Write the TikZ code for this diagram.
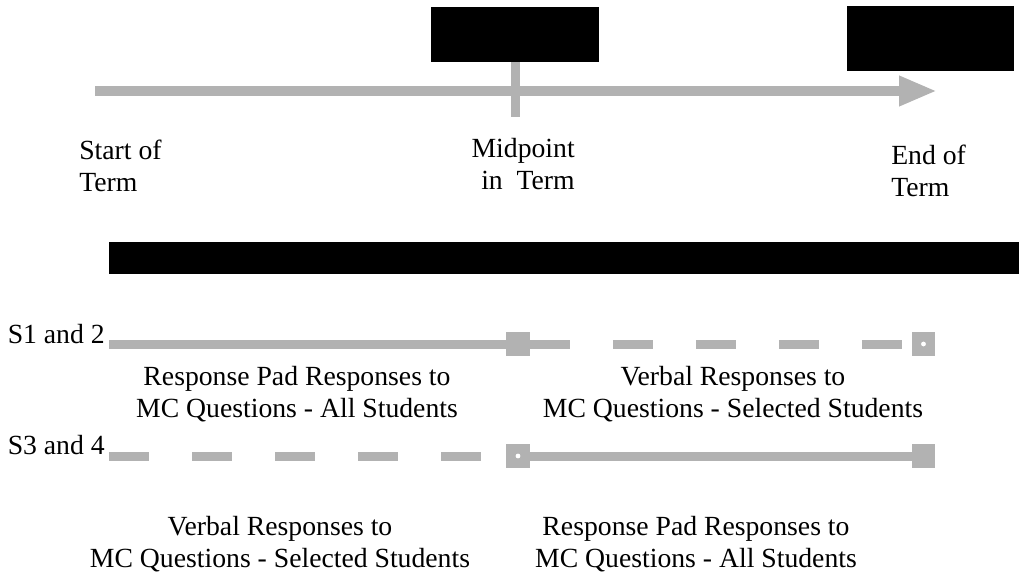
\documentclass[tikz,border=0pt]{standalone}
\usepackage{fontspec}
\setmainfont{Liberation Serif}
\usepackage{xcolor}
\usepackage{tikz}
\usetikzlibrary{arrows.meta, positioning}

\definecolor{trackgray}{RGB}{178,178,178}
\tikzset{
    blackbox/.style={draw=none, fill=black, inner sep=0pt},
    marker/.style={draw=none, fill=trackgray, minimum size=0.58cm, inner sep=0pt},
    hole/.style={circle, fill=white, minimum size=0.12cm, inner sep=0pt},
    track/.style={trackgray, line width=0.225cm},
    gaps/.style={track, dash pattern=on 1cm off 1.075cm},
    lbl/.style={font=\fontsize{19.7}{22.7}\selectfont, inner sep=0pt}
}

\begin{document}
\begin{tikzpicture}[x=0.025cm, y=-0.025cm]
        \useasboundingbox (0,0) rectangle (1019,577);

        \node[blackbox, minimum width=4.2cm, minimum height=1.375cm] (midbox) at (515,34.5) {};
        \node[blackbox, minimum width=4.175cm, minimum height=1.625cm] (endbox) at (930.5,38.5) {};

        \coordinate (tstart) at (95,91);
        \coordinate (tend) at (937,91);
        \coordinate (ticklow) at (515,117);
        \draw[trackgray, line width=0.225cm] (midbox.south) -- (ticklow);
        \draw[trackgray, line width=0.25cm, -{Triangle[width=0.7cm, length=0.95cm]}] (tstart) -- (tend);

        \node[lbl, align=left, anchor=west] (startlbl) at (79,166) {Start of\\Term};
        \node[lbl, align=right, anchor=east] (midlbl) at (575,164) {Midpoint\\in~~Term};
        \node[lbl, align=left, anchor=west] (endlbl) at (891,171) {End of\\Term};

        \node[blackbox, minimum width=22.75cm, minimum height=0.8cm] (bar) at (564,258) {};

        % S1 and 2
        \coordinate (rowa) at (109,344);
        \node[lbl, anchor=base east] (rowalbl) at (105,343) {S1 and 2};
        \node[marker] (amid) at (518,344) {};
        \node[marker] (aend) at (923.5,344) {};
        \node[hole] at (aend) {};
        \draw[track] (rowa) -- (amid.west);
        \draw[gaps] (amid.east) -- (aend.west);
        \node[lbl, align=center] (atxtl) at (297,394) {Response Pad Responses to\\MC Questions - All Students};
        \node[lbl, align=center] (atxtr) at (733,394) {Verbal Responses to\\MC Questions - Selected Students};

        % S3 and 4
        \coordinate (rowb) at (109,456);
        \node[lbl, anchor=base east] (rowblbl) at (105,454) {S3 and 4};
        \node[marker] (bmid) at (518,456) {};
        \node[hole] at (bmid) {};
        \node[marker] (bend) at (923.5,456) {};
        \draw[gaps] (rowb) -- (bmid.west);
        \draw[track] (bmid.east) -- (bend.west);
        \node[lbl, align=center] (btxtl) at (280,544) {Verbal Responses to\\MC Questions - Selected Students};
        \node[lbl, align=center] (btxtr) at (696,544) {Response Pad Responses to\\MC Questions - All Students};
\end{tikzpicture}
\end{document}
